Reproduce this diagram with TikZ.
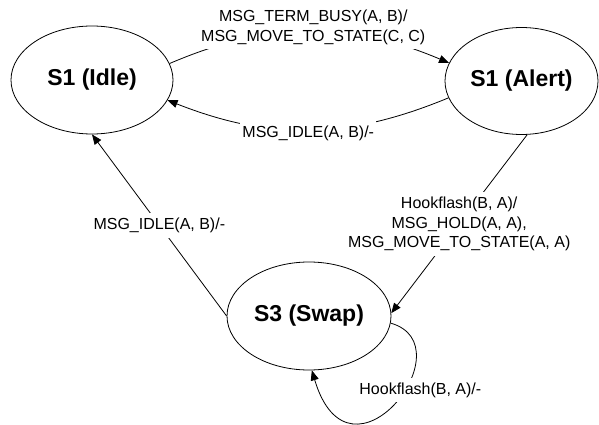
\documentclass[tikz,border=0pt]{standalone}
\usepackage{fontspec}
\setmainfont{Liberation Sans}
\usetikzlibrary{arrows.meta,shapes.geometric}

\begin{document}
\begin{tikzpicture}[
    x=1pt,y=-1pt,
    state/.style={ellipse,draw,line width=0.8pt,inner sep=0pt,minimum width=162pt,minimum height=108pt,font=\fontsize{23}{27}\selectfont\bfseries},
    trans/.style={-{Triangle[length=10pt,width=8pt]},line width=0.8pt},
    msg/.style={fill=white,inner xsep=2pt,inner ysep=5pt,align=center,font=\fontsize{16}{19.5}\selectfont}
]
\useasboundingbox (0,0) rectangle (599,425);
\node[state] (idle) at (92,80) {S1 (Idle)};
\node[state,minimum width=153pt,minimum height=107pt] (alert) at (521.5,81) {S1 (Alert)};
\node[state,minimum width=164pt] (swap) at (309,316) {S3 (Swap)};
% transitions between the states
\draw[trans] (idle.12) to[bend left=23] node[msg,xshift=4pt,yshift=4pt] {MSG\_TERM\_BUSY(A, B)/\\MSG\_MOVE\_TO\_STATE(C, C)} (alert.166);
\draw[trans] (alert.193) to[bend left=22] node[msg,yshift=-3pt] {MSG\_IDLE(A, B)/-} (idle.-15);
\draw[trans] (alert.-84) -- node[msg] {Hookflash(B, A)/\\MSG\_HOLD(A, A),\\MSG\_MOVE\_TO\_STATE(A, A)} (swap.2);
\draw[trans] (swap.west) -- node[msg] {MSG\_IDLE(A, B)/-} (idle.south);
% self loop on S3
\draw[trans] (swap.-5) .. controls (468,345) and (350,498) .. (swap.-87) node[msg,pos=0.4,xshift=13pt,yshift=-4pt] {Hookflash(B, A)/-};
\end{tikzpicture}
\end{document}
